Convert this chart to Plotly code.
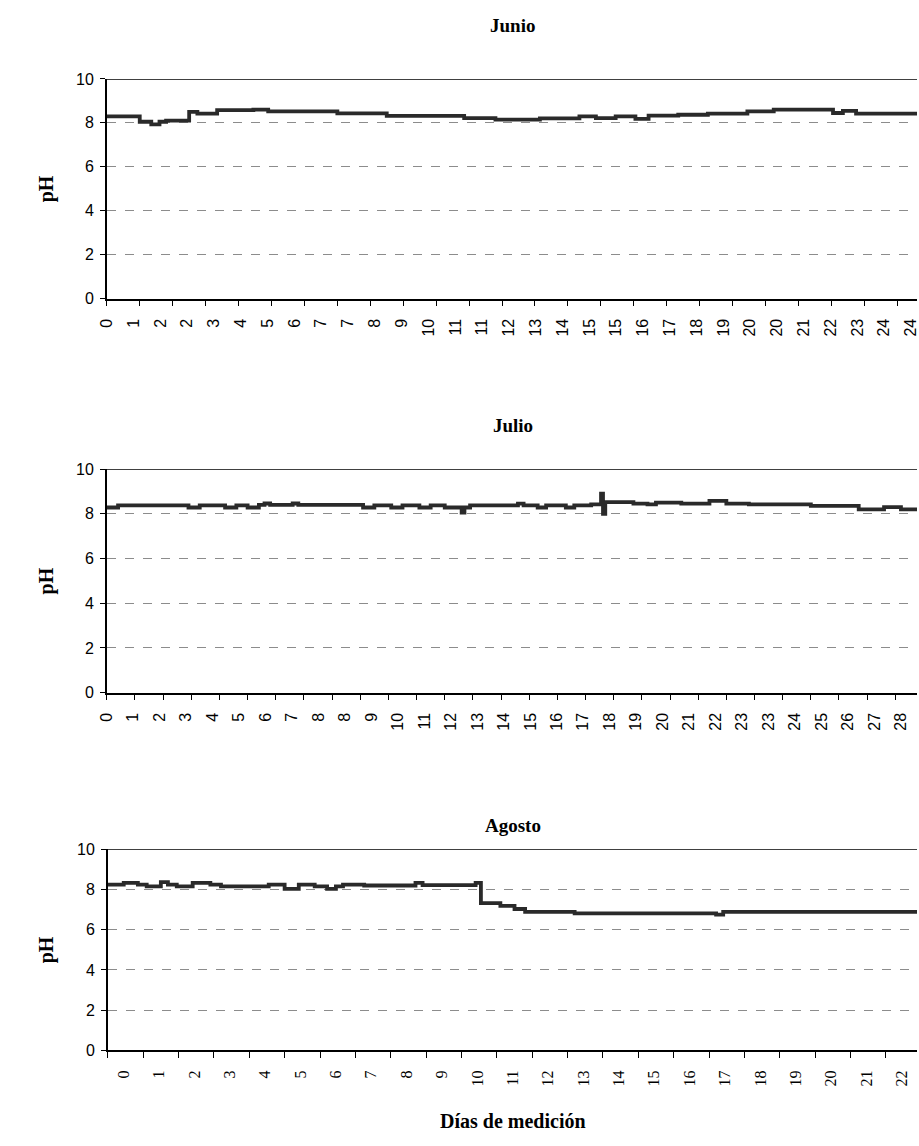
import plotly.graph_objects as go

# ---------------- DATA ----------------
# Junio: breakpoints (day, pH), step-wise record
junio_dia = [0, 1.0, 1.35, 1.6, 1.8, 2.5, 2.75, 3.35, 4.45, 4.9, 7.0, 8.5, 10.85,
             11.8, 13.15, 14.35, 14.85, 15.45, 16.05, 16.45, 17.35, 18.25, 19.45,
             20.25, 22.05, 22.35, 22.75, 24.6]
junio_ph = [8.30, 8.05, 7.93, 8.05, 8.10, 8.50, 8.42, 8.58, 8.60, 8.52, 8.43, 8.32, 8.22,
            8.15, 8.20, 8.30, 8.22, 8.30, 8.18, 8.33, 8.37, 8.42, 8.52,
            8.60, 8.45, 8.55, 8.42, 8.42]
junio_labels = ["0", "1", "2", "2", "3", "4", "5", "6", "7", "7", "8", "9", "10", "11", "11",
                "12", "13", "14", "15", "15", "16", "17", "18", "19", "20", "20", "21",
                "22", "23", "24", "24"]

julio_dia = [0.0, 0.4, 2.9, 3.3, 4.2, 4.6, 5.0, 5.4, 5.6, 5.8, 6.6, 6.8, 9.1, 9.5, 10.1,
             10.5, 11.1, 11.5, 12.0, 12.6, 12.7, 12.9, 14.6, 14.8, 15.3, 15.6, 16.3, 16.6,
             17.2, 17.55, 17.62, 17.7, 18.7, 19.2, 19.5, 20.4, 21.4, 22.0, 22.8, 25.0,
             26.7, 27.6, 28.2, 28.77]
julio_ph = [8.28, 8.38, 8.28, 8.38, 8.28, 8.38, 8.28, 8.40, 8.46, 8.40, 8.46, 8.40, 8.28,
            8.38, 8.28, 8.38, 8.28, 8.38, 8.28, 8.05, 8.28, 8.38, 8.45, 8.38, 8.28, 8.38,
            8.28, 8.38, 8.42, 8.90, 8.00, 8.52, 8.45, 8.42, 8.50, 8.45, 8.58, 8.45, 8.42,
            8.35, 8.20, 8.30, 8.20, 8.22]
julio_labels = ["0", "1", "2", "3", "4", "5", "6", "7", "8", "8", "9", "10", "11", "12", "13",
                "14", "15", "16", "17", "18", "19", "20", "21", "22", "23", "23", "24", "25",
                "26", "27", "28"]

agosto_dia = [0, 0.45, 0.85, 1.1, 1.5, 1.7, 1.95, 2.4, 2.9, 3.2, 4.55, 5.0, 5.4, 5.85, 6.2,
              6.45, 6.65, 7.25, 8.7, 8.9, 10.4, 10.55, 11.1, 11.5, 11.8, 13.2, 17.2, 17.4,
              22.88]
agosto_ph = [8.24, 8.33, 8.24, 8.16, 8.37, 8.24, 8.16, 8.33, 8.24, 8.16, 8.24, 8.03, 8.24,
             8.16, 8.03, 8.16, 8.24, 8.20, 8.33, 8.22, 8.33, 7.32, 7.19, 7.03, 6.89, 6.81,
             6.75, 6.89, 6.89]
agosto_labels = [str(i) for i in range(23)]

y_ticks = [0, 2, 4, 6, 8, 10]

# ---------------- FIGURE ----------------
W, H = 919, 1146
LINE = "#2a2a2a"
SANS = "Liberation Sans"
SERIF = "Liberation Serif"

panels = [
    dict(name="Junio", x=junio_dia, y=junio_ph, labels=junio_labels, l0=0.0, lstep=0.814,
         rng=[0, 24.6], top=72, bot=295, left=99, font=SANS, title_y=18),
    dict(name="Julio", x=julio_dia, y=julio_ph, labels=julio_labels, l0=0.0, lstep=0.94,
         rng=[0, 28.77], top=468, bot=695, left=99, font=SANS, title_y=424),
    dict(name="Agosto", x=agosto_dia, y=agosto_ph, labels=agosto_labels, l0=0.45, lstep=1.0,
         rng=[0, 22.88], top=854, bot=1058, left=100, font=SERIF, title_y=830),
]

fig = go.Figure()
layout = dict(width=W, height=H, margin=dict(l=0, r=0, t=0, b=0),
              paper_bgcolor="white", plot_bgcolor="white", showlegend=False)
annotations = []
shapes = []

for i, p in enumerate(panels, start=1):
    xa = "x" if i == 1 else f"x{i}"
    ya = "y" if i == 1 else f"y{i}"
    fig.add_trace(go.Scatter(x=p["x"], y=p["y"], mode="lines", xaxis=xa, yaxis=ya,
                             line=dict(color=LINE, width=3.8, shape="hv"),
                             hoverinfo="skip"))
    tickvals = [p["l0"] + k * p["lstep"] for k in range(len(p["labels"]))]
    xkey = "xaxis" if i == 1 else f"xaxis{i}"
    ykey = "yaxis" if i == 1 else f"yaxis{i}"
    layout[xkey] = dict(
        domain=[p["left"] / W, 1.0], anchor=ya, range=p["rng"],
        tickmode="array", tickvals=tickvals, ticktext=p["labels"],
        tickangle=-90, ticks="", showgrid=False, zeroline=False,
        showline=True, linecolor="black", linewidth=1.5,
        ticklabeloverflow="allow", ticklabelstandoff=12,
        tickfont=dict(family=p["font"], size=16, color="black"),
        minor=dict(ticks="outside", ticklen=6, tickwidth=1.2, tickcolor="black",
                   tick0=0, dtick=1, showgrid=False),
    )
    layout[ykey] = dict(
        domain=[1 - p["bot"] / H, 1 - p["top"] / H], anchor=xa, range=[0, 10],
        tickmode="array", tickvals=y_ticks,
        ticks="outside", ticklen=5, tickwidth=1.2, tickcolor="black",
        showline=True, linecolor="black", linewidth=1.5,
        showgrid=True, gridcolor="#8c8c8c", gridwidth=1, griddash="dash",
        zeroline=False, ticklabelstandoff=3,
        tickfont=dict(family=SANS, size=16, color="black"),
    )
    # solid top line at pH 10
    shapes.append(dict(type="line", xref=f"{xa} domain", yref=ya, x0=0, x1=1, y0=10, y1=10,
                       line=dict(color="black", width=1.5), layer="above"))
    annotations.append(dict(text="<b>" + p["name"] + "</b>", xref="paper", yref="paper",
                            x=510 / W, y=1 - p["title_y"] / H, showarrow=False,
                            xanchor="center", yanchor="middle",
                            font=dict(family=SERIF, size=19, color="black")))
    annotations.append(dict(text="<b>pH</b>", xref="paper", yref="paper",
                            x=38 / W, y=1 - ((p["top"] + p["bot"]) / 2) / H, showarrow=False,
                            textangle=-90, xanchor="center", yanchor="middle",
                            font=dict(family=SERIF, size=20, color="black")))

annotations.append(dict(text="<b>Días de medición</b>", xref="paper", yref="paper",
                        x=510 / W, y=1 - 1130 / H, showarrow=False,
                        xanchor="center", yanchor="middle",
                        font=dict(family=SERIF, size=20, color="black")))

layout["annotations"] = annotations
layout["shapes"] = shapes
fig.update_layout(**layout)
fig.write_html("out.html")
